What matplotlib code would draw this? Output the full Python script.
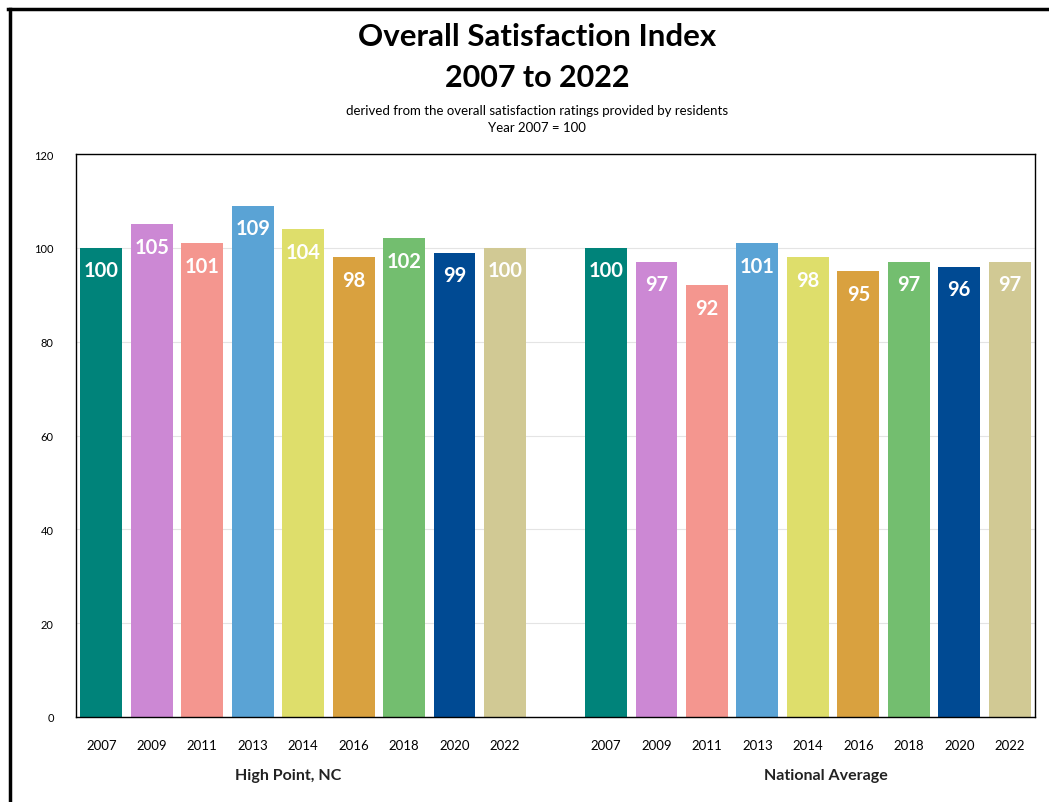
import matplotlib.pyplot as plt
from matplotlib.lines import Line2D
import matplotlib.transforms as mtransforms

# data
years = ['2007', '2009', '2011', '2013', '2014', '2016', '2018', '2020', '2022']
high_point = [100, 105, 101, 109, 104, 98, 102, 99, 100]
national = [100, 97, 92, 101, 98, 95, 97, 96, 97]
groups = ['High Point, NC', 'National Average']
colors = ['#00837A', '#CC88D4', '#F4968F', '#5AA3D5', '#DEDE6B',
          '#D9A13F', '#73BE6F', '#004A93', '#D1C994']

plt.rcParams['font.family'] = ['Lato', 'DejaVu Sans']

fig = plt.figure(figsize=(10.49, 8.03), dpi=100)
ax = fig.add_axes([76 / 1049, 1 - 718 / 803, (1035 - 76) / 1049, (718 - 155) / 803])

pos_hp = list(range(len(years)))
pos_na = [p + len(years) + 1 for p in pos_hp]

for posicoes, valores in [(pos_hp, high_point), (pos_na, national)]:
    barras = ax.bar(posicoes, valores, width=0.83, color=colors, zorder=2)
    for barra, v in zip(barras, valores):
        ax.text(barra.get_x() + barra.get_width() / 2, v - 4.8, str(v),
                ha='center', va='center', color='white', fontsize=14.5,
                fontweight='bold', zorder=3)

ax.set_xlim(-0.5, pos_na[-1] + 0.5)
ax.set_ylim(0, 120)
ax.set_yticks(range(0, 121, 20))
ax.set_xticks(pos_hp + pos_na)
ax.set_xticklabels(years + years, fontsize=9.5)
ax.tick_params(axis='y', length=0, pad=16, labelsize=8)
ax.tick_params(axis='x', length=0, pad=16)
ax.grid(axis='y', color='#e4e4e4', linewidth=0.8, zorder=0)
for lado in ax.spines.values():
    lado.set_color('black')
    lado.set_linewidth(1)

# rotulos dos grupos
trans = mtransforms.blended_transform_factory(ax.transData, fig.transFigure)
ax.text(3.7, 1 - 776 / 803, groups[0], transform=trans, ha='center', va='center',
        fontsize=11.5, fontweight='bold', color='#222222')
ax.text(14.36, 1 - 776 / 803, groups[1], transform=trans, ha='center', va='center',
        fontsize=11.5, fontweight='bold', color='#222222')

# titulos
fig.text(537 / 1049, 1 - 37 / 803, 'Overall Satisfaction Index', ha='center', va='center',
         fontsize=22.5, fontweight='bold')
fig.text(537 / 1049, 1 - 78 / 803, '2007 to 2022', ha='center', va='center',
         fontsize=22, fontweight='bold')
fig.text(537 / 1049, 1 - 111 / 803,
         'derived from the overall satisfaction ratings provided by residents',
         ha='center', va='center', fontsize=9.5)
fig.text(537 / 1049, 1 - 128 / 803, 'Year 2007 = 100', ha='center', va='center', fontsize=9.5)

# moldura
fig.add_artist(Line2D([9.5 / 1049, 9.5 / 1049], [0, 1 - 10 / 803], color='black',
                      linewidth=2.5, transform=fig.transFigure))
fig.add_artist(Line2D([8 / 1049, 1], [1 - 10 / 803, 1 - 10 / 803], color='black',
                      linewidth=2.5, transform=fig.transFigure))

fig.savefig('out.png', dpi=100)
